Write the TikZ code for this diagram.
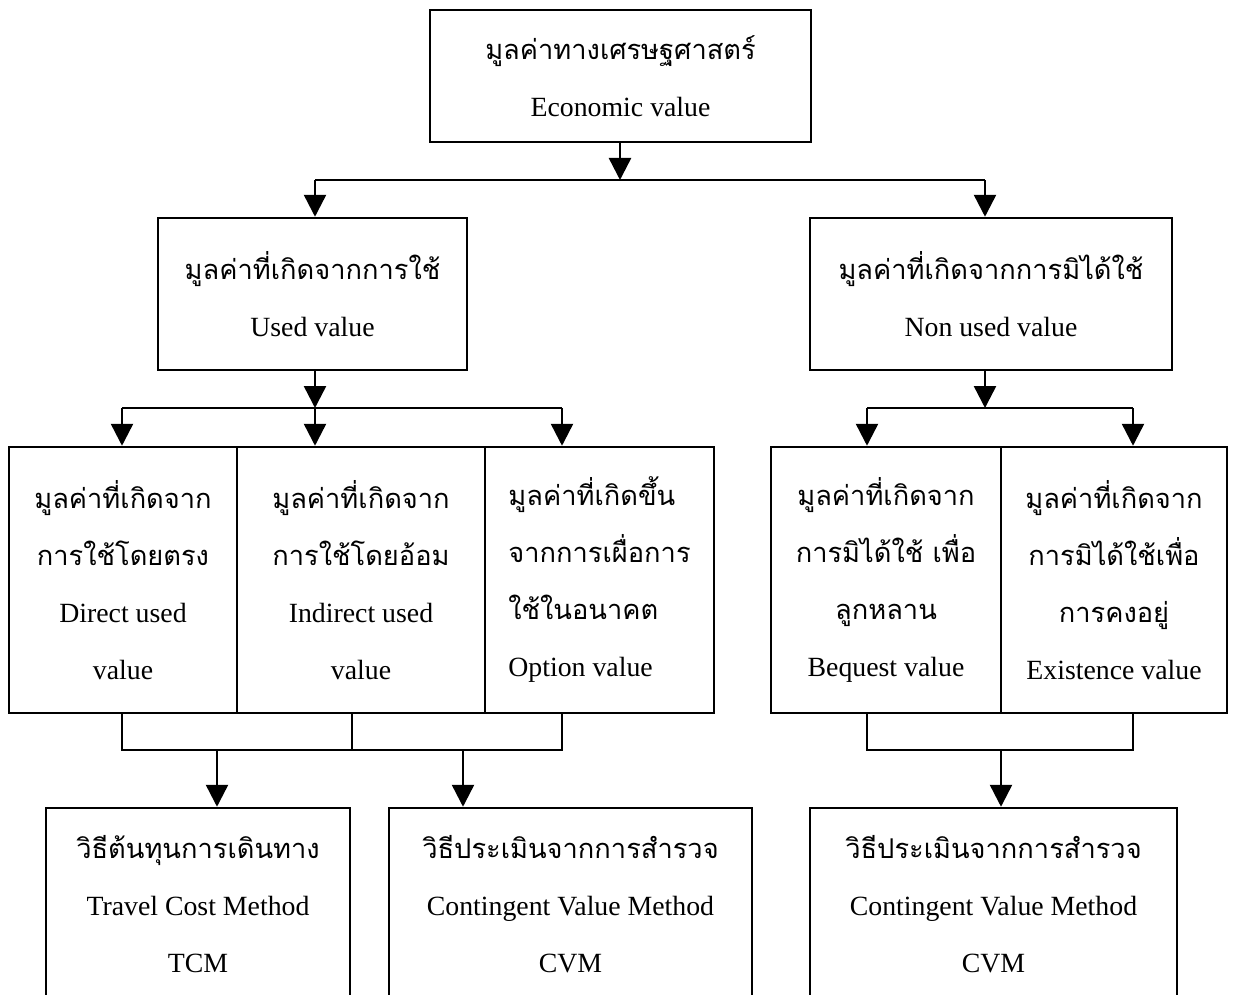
\documentclass[tikz,border=0pt]{standalone}
\usepackage{fontspec}
\setmainfont{Liberation Serif}
\newfontfamily\thaifont[Script=Thai,Scale=0.98]{Loma}
\usetikzlibrary{arrows.meta}
\newcommand\myboxfont{\fontsize{13.9}{28.5}\selectfont\lineskiplimit-10pt\relax}
\begin{document}
\begin{tikzpicture}[x=0.5pt,y=-0.5pt,
  box/.style={draw,line width=1.25pt,inner sep=0pt,align=center,
    font=\myboxfont},
  ln/.style={line width=1.25pt},
  arr/.style={line width=1.25pt,-{Triangle[width=11pt,length=11pt]}}]
\clip (0,0) rectangle (1237,995);
\fill[white] (0,0) rectangle (1237,995);
% level 1
\node[box,minimum width=190.5pt,minimum height=66pt] (top) at (620.5,76)
  {{\thaifont มูลค่าทางเศรษฐศาสตร์}\\Economic value};
% level 2
\node[box,minimum width=154.5pt,minimum height=76pt] (used) at (312.5,294)
  {{\thaifont มูลค่าที่เกิดจากการใช้}\\Used value};
\node[box,minimum width=181pt,minimum height=76pt] (nonused) at (991,294)
  {{\thaifont มูลค่าที่เกิดจากการมิได้ใช้}\\Non used value};
% level 3
\node[box,minimum width=114pt,minimum height=133pt] (d1) at (123,580)
  {{\thaifont มูลค่าที่เกิดจาก}\\{\thaifont การใช้โดยตรง}\\Direct used\\value};
\node[box,minimum width=124pt,minimum height=133pt] (d2) at (361,580)
  {{\thaifont มูลค่าที่เกิดจาก}\\{\thaifont การใช้โดยอ้อม}\\Indirect used\\value};
\node[box,align=left,minimum width=114.5pt,minimum height=133pt] (d3) at (599.5,580)
  {{\thaifont มูลค่าที่เกิดขึ้น}\\{\thaifont จากการเผื่อการ}\\{\thaifont ใช้ในอนาคต}\\Option value};
\node[box,minimum width=115pt,minimum height=133pt] (b1) at (886,580)
  {{\thaifont มูลค่าที่เกิดจาก}\\{\thaifont การมิได้ใช้ เพื่อ}\\{\thaifont ลูกหลาน}\\Bequest value};
\node[box,minimum width=113pt,minimum height=133pt] (b2) at (1114,580)
  {{\thaifont มูลค่าที่เกิดจาก}\\{\thaifont การมิได้ใช้เพื่อ}\\{\thaifont การคงอยู่}\\Existence value};
% level 4
\node[box,minimum width=152pt,minimum height=96pt] (m1) at (198,904)
  {{\thaifont วิธีต้นทุนการเดินทาง}\\Travel Cost Method\\TCM};
\node[box,minimum width=181.5pt,minimum height=96pt] (m2) at (570.5,904)
  {{\thaifont วิธีประเมินจากการสำรวจ}\\Contingent Value Method\\CVM};
\node[box,minimum width=183.5pt,minimum height=96pt] (m3) at (993.5,904)
  {{\thaifont วิธีประเมินจากการสำรวจ}\\Contingent Value Method\\CVM};
% connectors level 1 -> 2
\coordinate (j1) at (620,180);
\coordinate (u1) at (315,180);
\coordinate (u2) at (985,180);
\draw[arr] (j1 |- top.south) -- (j1);
\draw[ln] (u1) -- (u2);
\draw[arr] (u1) -- (u1 |- used.north);
\draw[arr] (u2) -- (u2 |- nonused.north);
% used -> level 3
\coordinate (j2) at (315,408);
\coordinate (a1) at (122,408);
\coordinate (a3) at (562,408);
\draw[arr] (j2 |- used.south) -- (j2);
\draw[ln] (a1) -- (a3);
\draw[arr] (a1) -- (a1 |- d1.north);
\draw[arr] (j2) -- (j2 |- d2.north);
\draw[arr] (a3) -- (a3 |- d3.north);
% nonused -> level 3
\coordinate (j3) at (985,408);
\coordinate (a4) at (867,408);
\coordinate (a5) at (1133,408);
\draw[arr] (j3 |- nonused.south) -- (j3);
\draw[ln] (a4) -- (a5);
\draw[arr] (a4) -- (a4 |- b1.north);
\draw[arr] (a5) -- (a5 |- b2.north);
% level 3 -> level 4 (left)
\coordinate (L1) at (122,750);
\coordinate (L2) at (352,750);
\coordinate (L3) at (562,750);
\draw[ln] (L1 |- d1.south) -- (L1) -- (L3) -- (L3 |- d3.south);
\draw[ln] (L2 |- d2.south) -- (L2);
\coordinate (T1) at (217,750);
\coordinate (T2) at (463,750);
\draw[arr] (T1) -- (T1 |- m1.north);
\draw[arr] (T2) -- (T2 |- m2.north);
% level 3 -> level 4 (right)
\coordinate (R1) at (867,750);
\coordinate (R2) at (1133,750);
\coordinate (T3) at (1001,750);
\draw[ln] (R1 |- b1.south) -- (R1) -- (R2) -- (R2 |- b2.south);
\draw[arr] (T3) -- (T3 |- m3.north);
\end{tikzpicture}
\end{document}
